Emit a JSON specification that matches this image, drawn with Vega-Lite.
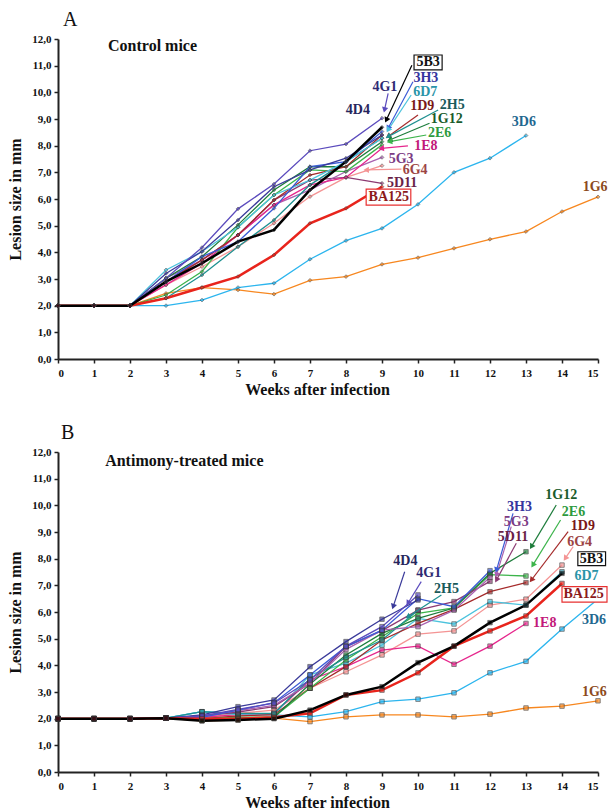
{
"$schema":"https://vega.github.io/schema/vega-lite/v6.json",
"padding":{"left":7,"top":10,"right":5,"bottom":0},
"config":{"view":{"stroke":null},"font":"Liberation Serif",
"axis":{"grid":false,"labelFont":"Liberation Serif","labelFontWeight":"bold","labelFontSize":11,"labelColor":"#111","titleFont":"Liberation Serif","titleFontWeight":"bold","titleFontSize":16,"titleColor":"#111","domainColor":"#222","domainWidth":2,"tickColor":"#222","tickWidth":1.5,"tickSize":4},
"title":{"font":"Liberation Serif","fontWeight":"normal","fontSize":20,"anchor":"start","frame":"group","color":"#111"}},
"datasets":{
"serA":[
{"s":"1G6","w":0,"v":2},{"s":"1G6","w":1,"v":2},{"s":"1G6","w":2,"v":2},{"s":"1G6","w":3,"v":2.46},{"s":"1G6","w":4,"v":2.68},{"s":"1G6","w":5,"v":2.59},{"s":"1G6","w":6,"v":2.43},{"s":"1G6","w":7,"v":2.95},{"s":"1G6","w":8,"v":3.09},{"s":"1G6","w":9,"v":3.55},{"s":"1G6","w":10,"v":3.8},{"s":"1G6","w":11,"v":4.15},{"s":"1G6","w":12,"v":4.49},{"s":"1G6","w":13,"v":4.78},{"s":"1G6","w":14,"v":5.53},{"s":"1G6","w":15,"v":6.08},
{"s":"3D6","w":0,"v":2},{"s":"3D6","w":1,"v":2},{"s":"3D6","w":2,"v":2},{"s":"3D6","w":3,"v":2.0},{"s":"3D6","w":4,"v":2.21},{"s":"3D6","w":5,"v":2.68},{"s":"3D6","w":6,"v":2.84},{"s":"3D6","w":7,"v":3.74},{"s":"3D6","w":8,"v":4.44},{"s":"3D6","w":9,"v":4.9},{"s":"3D6","w":10,"v":5.8},{"s":"3D6","w":11,"v":7.0},{"s":"3D6","w":12,"v":7.53},{"s":"3D6","w":13,"v":8.38},
{"s":"6G4","w":0,"v":2},{"s":"6G4","w":1,"v":2},{"s":"6G4","w":2,"v":2},{"s":"6G4","w":3,"v":2.78},{"s":"6G4","w":4,"v":3.46},{"s":"6G4","w":5,"v":4.21},{"s":"6G4","w":6,"v":5.09},{"s":"6G4","w":7,"v":6.09},{"s":"6G4","w":8,"v":6.81},{"s":"6G4","w":9,"v":7.25},
{"s":"5D11","w":0,"v":2},{"s":"5D11","w":1,"v":2},{"s":"5D11","w":2,"v":2},{"s":"5D11","w":3,"v":2.9},{"s":"5D11","w":4,"v":3.71},{"s":"5D11","w":5,"v":4.65},{"s":"5D11","w":6,"v":5.96},{"s":"5D11","w":7,"v":6.71},{"s":"5D11","w":8,"v":6.81},{"s":"5D11","w":9,"v":6.59},
{"s":"5G3","w":0,"v":2},{"s":"5G3","w":1,"v":2},{"s":"5G3","w":2,"v":2},{"s":"5G3","w":3,"v":3.03},{"s":"5G3","w":4,"v":3.71},{"s":"5G3","w":5,"v":4.65},{"s":"5G3","w":6,"v":5.78},{"s":"5G3","w":7,"v":6.34},{"s":"5G3","w":8,"v":7.03},{"s":"5G3","w":9,"v":7.56},
{"s":"1E8","w":0,"v":2},{"s":"1E8","w":1,"v":2},{"s":"1E8","w":2,"v":2},{"s":"1E8","w":3,"v":2.78},{"s":"1E8","w":4,"v":3.59},{"s":"1E8","w":5,"v":4.65},{"s":"1E8","w":6,"v":5.78},{"s":"1E8","w":7,"v":6.53},{"s":"1E8","w":8,"v":6.81},{"s":"1E8","w":9,"v":7.9},
{"s":"2E6","w":0,"v":2},{"s":"2E6","w":1,"v":2},{"s":"2E6","w":2,"v":2},{"s":"2E6","w":3,"v":2.4},{"s":"2E6","w":4,"v":3.28},{"s":"2E6","w":5,"v":4.94},{"s":"2E6","w":6,"v":6.15},{"s":"2E6","w":7,"v":7.09},{"s":"2E6","w":8,"v":7.03},{"s":"2E6","w":9,"v":8.03},
{"s":"1G12","w":0,"v":2},{"s":"1G12","w":1,"v":2},{"s":"1G12","w":2,"v":2},{"s":"1G12","w":3,"v":3.03},{"s":"1G12","w":4,"v":3.84},{"s":"1G12","w":5,"v":5.03},{"s":"1G12","w":6,"v":6.34},{"s":"1G12","w":7,"v":7.21},{"s":"1G12","w":8,"v":7.21},{"s":"1G12","w":9,"v":8.15},
{"s":"2H5","w":0,"v":2},{"s":"2H5","w":1,"v":2},{"s":"2H5","w":2,"v":2},{"s":"2H5","w":3,"v":2.28},{"s":"2H5","w":4,"v":3.15},{"s":"2H5","w":5,"v":4.21},{"s":"2H5","w":6,"v":5.21},{"s":"2H5","w":7,"v":6.53},{"s":"2H5","w":8,"v":7.4},{"s":"2H5","w":9,"v":8.28},
{"s":"1D9","w":0,"v":2},{"s":"1D9","w":1,"v":2},{"s":"1D9","w":2,"v":2},{"s":"1D9","w":3,"v":2.9},{"s":"1D9","w":4,"v":3.71},{"s":"1D9","w":5,"v":4.65},{"s":"1D9","w":6,"v":5.96},{"s":"1D9","w":7,"v":6.9},{"s":"1D9","w":8,"v":7.21},{"s":"1D9","w":9,"v":8.4},
{"s":"6D7","w":0,"v":2},{"s":"6D7","w":1,"v":2},{"s":"6D7","w":2,"v":2},{"s":"6D7","w":3,"v":3.34},{"s":"6D7","w":4,"v":4.03},{"s":"6D7","w":5,"v":4.94},{"s":"6D7","w":6,"v":6.15},{"s":"6D7","w":7,"v":6.71},{"s":"6D7","w":8,"v":7.4},{"s":"6D7","w":9,"v":8.28},
{"s":"3H3","w":0,"v":2},{"s":"3H3","w":1,"v":2},{"s":"3H3","w":2,"v":2},{"s":"3H3","w":3,"v":2.9},{"s":"3H3","w":4,"v":3.84},{"s":"3H3","w":5,"v":4.4},{"s":"3H3","w":6,"v":5.65},{"s":"3H3","w":7,"v":7.21},{"s":"3H3","w":8,"v":7.4},{"s":"3H3","w":9,"v":8.53},
{"s":"4D4","w":0,"v":2},{"s":"4D4","w":1,"v":2},{"s":"4D4","w":2,"v":2},{"s":"4D4","w":3,"v":3.21},{"s":"4D4","w":4,"v":4.03},{"s":"4D4","w":5,"v":5.21},{"s":"4D4","w":6,"v":6.46},{"s":"4D4","w":7,"v":7.09},{"s":"4D4","w":8,"v":7.53},{"s":"4D4","w":9,"v":8.4},
{"s":"4G1","w":0,"v":2},{"s":"4G1","w":1,"v":2},{"s":"4G1","w":2,"v":2},{"s":"4G1","w":3,"v":3.03},{"s":"4G1","w":4,"v":4.18},{"s":"4G1","w":5,"v":5.63},{"s":"4G1","w":6,"v":6.56},{"s":"4G1","w":7,"v":7.81},{"s":"4G1","w":8,"v":8.06},{"s":"4G1","w":9,"v":9.03},
{"s":"BA125","w":0,"v":2},{"s":"BA125","w":1,"v":2},{"s":"BA125","w":2,"v":2},{"s":"BA125","w":3,"v":2.28},{"s":"BA125","w":4,"v":2.68},{"s":"BA125","w":5,"v":3.09},{"s":"BA125","w":6,"v":3.9},{"s":"BA125","w":7,"v":5.09},{"s":"BA125","w":8,"v":5.65},{"s":"BA125","w":9,"v":6.46},
{"s":"5B3","w":0,"v":2},{"s":"5B3","w":1,"v":2},{"s":"5B3","w":2,"v":2},{"s":"5B3","w":3,"v":2.9},{"s":"5B3","w":4,"v":3.59},{"s":"5B3","w":5,"v":4.4},{"s":"5B3","w":6,"v":4.84},{"s":"5B3","w":7,"v":6.34},{"s":"5B3","w":8,"v":7.4},{"s":"5B3","w":9,"v":8.69}
],
"serB":[
{"s":"1G6","w":0,"v":2},{"s":"1G6","w":1,"v":2},{"s":"1G6","w":2,"v":2},{"s":"1G6","w":3,"v":2.02},{"s":"1G6","w":4,"v":1.92},{"s":"1G6","w":5,"v":1.95},{"s":"1G6","w":6,"v":2.02},{"s":"1G6","w":7,"v":1.89},{"s":"1G6","w":8,"v":2.07},{"s":"1G6","w":9,"v":2.14},{"s":"1G6","w":10,"v":2.14},{"s":"1G6","w":11,"v":2.07},{"s":"1G6","w":12,"v":2.17},{"s":"1G6","w":13,"v":2.4},{"s":"1G6","w":14,"v":2.47},{"s":"1G6","w":15,"v":2.67},
{"s":"3D6","w":0,"v":2},{"s":"3D6","w":1,"v":2},{"s":"3D6","w":2,"v":2},{"s":"3D6","w":3,"v":2.02},{"s":"3D6","w":4,"v":2.26},{"s":"3D6","w":5,"v":2.2},{"s":"3D6","w":6,"v":2.14},{"s":"3D6","w":7,"v":2.07},{"s":"3D6","w":8,"v":2.26},{"s":"3D6","w":9,"v":2.64},{"s":"3D6","w":10,"v":2.73},{"s":"3D6","w":11,"v":2.97},{"s":"3D6","w":12,"v":3.72},{"s":"3D6","w":13,"v":4.15},{"s":"3D6","w":14,"v":5.36},{"s":"3D6","w":15,"v":6.49},
{"s":"6G4","w":0,"v":2},{"s":"6G4","w":1,"v":2},{"s":"6G4","w":2,"v":2},{"s":"6G4","w":3,"v":2.02},{"s":"6G4","w":4,"v":2.05},{"s":"6G4","w":5,"v":2.2},{"s":"6G4","w":6,"v":2.32},{"s":"6G4","w":7,"v":3.14},{"s":"6G4","w":8,"v":3.76},{"s":"6G4","w":9,"v":4.39},{"s":"6G4","w":10,"v":5.17},{"s":"6G4","w":11,"v":5.29},{"s":"6G4","w":12,"v":6.26},{"s":"6G4","w":13,"v":6.48},{"s":"6G4","w":14,"v":7.76},
{"s":"1E8","w":0,"v":2},{"s":"1E8","w":1,"v":2},{"s":"1E8","w":2,"v":2},{"s":"1E8","w":3,"v":2.02},{"s":"1E8","w":4,"v":2.05},{"s":"1E8","w":5,"v":2.15},{"s":"1E8","w":6,"v":2.2},{"s":"1E8","w":7,"v":3.45},{"s":"1E8","w":8,"v":3.95},{"s":"1E8","w":9,"v":4.57},{"s":"1E8","w":10,"v":4.72},{"s":"1E8","w":11,"v":4.04},{"s":"1E8","w":12,"v":4.72},{"s":"1E8","w":13,"v":5.57},
{"s":"6D7","w":0,"v":2},{"s":"6D7","w":1,"v":2},{"s":"6D7","w":2,"v":2},{"s":"6D7","w":3,"v":2.02},{"s":"6D7","w":4,"v":2.26},{"s":"6D7","w":5,"v":2.15},{"s":"6D7","w":6,"v":2.14},{"s":"6D7","w":7,"v":3.64},{"s":"6D7","w":8,"v":4.08},{"s":"6D7","w":9,"v":4.76},{"s":"6D7","w":10,"v":5.76},{"s":"6D7","w":11,"v":5.55},{"s":"6D7","w":12,"v":6.39},{"s":"6D7","w":13,"v":6.26},{"s":"6D7","w":14,"v":7.51},
{"s":"1D9","w":0,"v":2},{"s":"1D9","w":1,"v":2},{"s":"1D9","w":2,"v":2},{"s":"1D9","w":3,"v":2.02},{"s":"1D9","w":4,"v":2.0},{"s":"1D9","w":5,"v":2.1},{"s":"1D9","w":6,"v":2.15},{"s":"1D9","w":7,"v":3.14},{"s":"1D9","w":8,"v":3.95},{"s":"1D9","w":9,"v":4.95},{"s":"1D9","w":10,"v":5.57},{"s":"1D9","w":11,"v":6.1},{"s":"1D9","w":12,"v":6.76},{"s":"1D9","w":13,"v":7.1},
{"s":"2E6","w":0,"v":2},{"s":"2E6","w":1,"v":2},{"s":"2E6","w":2,"v":2},{"s":"2E6","w":3,"v":2.02},{"s":"2E6","w":4,"v":2.0},{"s":"2E6","w":5,"v":2.05},{"s":"2E6","w":6,"v":2.07},{"s":"2E6","w":7,"v":3.14},{"s":"2E6","w":8,"v":4.2},{"s":"2E6","w":9,"v":5.07},{"s":"2E6","w":10,"v":5.95},{"s":"2E6","w":11,"v":6.15},{"s":"2E6","w":12,"v":7.4},{"s":"2E6","w":13,"v":7.35},
{"s":"1G12","w":0,"v":2},{"s":"1G12","w":1,"v":2},{"s":"1G12","w":2,"v":2},{"s":"1G12","w":3,"v":2.02},{"s":"1G12","w":4,"v":1.95},{"s":"1G12","w":5,"v":2.0},{"s":"1G12","w":6,"v":2.05},{"s":"1G12","w":7,"v":3.3},{"s":"1G12","w":8,"v":4.39},{"s":"1G12","w":9,"v":5.2},{"s":"1G12","w":10,"v":5.76},{"s":"1G12","w":11,"v":6.15},{"s":"1G12","w":12,"v":7.45},{"s":"1G12","w":13,"v":8.26},
{"s":"2H5","w":0,"v":2},{"s":"2H5","w":1,"v":2},{"s":"2H5","w":2,"v":2},{"s":"2H5","w":3,"v":2.02},{"s":"2H5","w":4,"v":2.26},{"s":"2H5","w":5,"v":2.2},{"s":"2H5","w":6,"v":2.2},{"s":"2H5","w":7,"v":3.5},{"s":"2H5","w":8,"v":4.3},{"s":"2H5","w":9,"v":4.95},{"s":"2H5","w":10,"v":6.07},
{"s":"5D11","w":0,"v":2},{"s":"5D11","w":1,"v":2},{"s":"5D11","w":2,"v":2},{"s":"5D11","w":3,"v":2.02},{"s":"5D11","w":4,"v":2.1},{"s":"5D11","w":5,"v":2.25},{"s":"5D11","w":6,"v":2.45},{"s":"5D11","w":7,"v":3.33},{"s":"5D11","w":8,"v":4.7},{"s":"5D11","w":9,"v":5.3},{"s":"5D11","w":10,"v":6.07},{"s":"5D11","w":11,"v":6.39},{"s":"5D11","w":12,"v":7.15},
{"s":"5G3","w":0,"v":2},{"s":"5G3","w":1,"v":2},{"s":"5G3","w":2,"v":2},{"s":"5G3","w":3,"v":2.02},{"s":"5G3","w":4,"v":2.1},{"s":"5G3","w":5,"v":2.3},{"s":"5G3","w":6,"v":2.5},{"s":"5G3","w":7,"v":3.33},{"s":"5G3","w":8,"v":4.6},{"s":"5G3","w":9,"v":5.32},{"s":"5G3","w":10,"v":5.45},{"s":"5G3","w":11,"v":6.07},{"s":"5G3","w":12,"v":7.3},
{"s":"3H3","w":0,"v":2},{"s":"3H3","w":1,"v":2},{"s":"3H3","w":2,"v":2},{"s":"3H3","w":3,"v":2.02},{"s":"3H3","w":4,"v":2.05},{"s":"3H3","w":5,"v":2.32},{"s":"3H3","w":6,"v":2.6},{"s":"3H3","w":7,"v":3.64},{"s":"3H3","w":8,"v":4.7},{"s":"3H3","w":9,"v":5.32},{"s":"3H3","w":10,"v":6.5},{"s":"3H3","w":11,"v":6.2},{"s":"3H3","w":12,"v":7.55},
{"s":"4D4","w":0,"v":2},{"s":"4D4","w":1,"v":2},{"s":"4D4","w":2,"v":2},{"s":"4D4","w":3,"v":2.02},{"s":"4D4","w":4,"v":2.14},{"s":"4D4","w":5,"v":2.45},{"s":"4D4","w":6,"v":2.7},{"s":"4D4","w":7,"v":3.95},{"s":"4D4","w":8,"v":4.89},{"s":"4D4","w":9,"v":5.73},{"s":"4D4","w":10,"v":6.45},
{"s":"4G1","w":0,"v":2},{"s":"4G1","w":1,"v":2},{"s":"4G1","w":2,"v":2},{"s":"4G1","w":3,"v":2.02},{"s":"4G1","w":4,"v":2.1},{"s":"4G1","w":5,"v":2.35},{"s":"4G1","w":6,"v":2.58},{"s":"4G1","w":7,"v":3.45},{"s":"4G1","w":8,"v":4.72},{"s":"4G1","w":9,"v":5.45},{"s":"4G1","w":10,"v":6.64},
{"s":"BA125","w":0,"v":2},{"s":"BA125","w":1,"v":2},{"s":"BA125","w":2,"v":2},{"s":"BA125","w":3,"v":2.02},{"s":"BA125","w":4,"v":2.0},{"s":"BA125","w":5,"v":2.0},{"s":"BA125","w":6,"v":2.05},{"s":"BA125","w":7,"v":2.2},{"s":"BA125","w":8,"v":2.89},{"s":"BA125","w":9,"v":3.07},{"s":"BA125","w":10,"v":3.72},{"s":"BA125","w":11,"v":4.72},{"s":"BA125","w":12,"v":5.29},{"s":"BA125","w":13,"v":5.85},{"s":"BA125","w":14,"v":7.07},
{"s":"5B3","w":0,"v":2},{"s":"5B3","w":1,"v":2},{"s":"5B3","w":2,"v":2},{"s":"5B3","w":3,"v":2.02},{"s":"5B3","w":4,"v":1.92},{"s":"5B3","w":5,"v":1.95},{"s":"5B3","w":6,"v":2.0},{"s":"5B3","w":7,"v":2.32},{"s":"5B3","w":8,"v":2.89},{"s":"5B3","w":9,"v":3.2},{"s":"5B3","w":10,"v":4.1},{"s":"5B3","w":11,"v":4.72},{"s":"5B3","w":12,"v":5.6},{"s":"5B3","w":13,"v":6.26},{"s":"5B3","w":14,"v":7.45}
],
"labA":[
{"s":"5B3","x":10.28,"y":11.14},{"s":"3H3","x":10.22,"y":10.52},{"s":"6D7","x":10.2,"y":10.02},{"s":"4G1","x":9.08,"y":10.2},{"s":"4D4","x":8.33,"y":9.34},{"s":"1D9","x":10.12,"y":9.48},{"s":"2H5","x":10.95,"y":9.52},{"s":"1G12","x":10.8,"y":9.0},{"s":"2E6","x":10.6,"y":8.47},{"s":"1E8","x":10.22,"y":8.0},{"s":"5G3","x":9.53,"y":7.5},{"s":"6G4","x":9.92,"y":7.1},{"s":"5D11","x":9.56,"y":6.6},{"s":"BA125","x":9.19,"y":6.07},{"s":"3D6","x":12.94,"y":8.89},{"s":"1G6","x":14.92,"y":6.45}
],
"arrA":[
{"s":"5B3","x":9.83,"y":11.02,"x2":9.12,"y2":8.96},{"s":"3H3","x":9.86,"y":10.4,"x2":9.17,"y2":8.65},{"s":"6D7","x":9.81,"y":9.9,"x2":9.17,"y2":8.59},{"s":"4G1","x":9.17,"y":9.96,"x2":9.07,"y2":9.34},{"s":"1D9","x":10.0,"y":9.15,"x2":9.17,"y2":8.34},{"s":"2H5","x":10.56,"y":9.34,"x2":9.17,"y2":8.34},{"s":"1G12","x":10.32,"y":8.84,"x2":9.21,"y2":8.21},{"s":"2E6","x":10.23,"y":8.4,"x2":9.21,"y2":8.15},{"s":"1E8","x":9.72,"y":7.99,"x2":8.98,"y2":7.9},{"s":"6G4","x":9.54,"y":7.12,"x2":8.56,"y2":7.09}
],
"boxA":[
{"s":"5B3","x":9.89,"x2":10.67,"y":10.84,"y2":11.4},{"s":"BA125","x":8.56,"x2":9.8,"y":5.77,"y2":6.37}
],
"subA":[{"t":"Control mice","x":1.39,"y":11.74}],
"labB":[
{"s":"1G12","x":13.98,"y":10.39},{"s":"2E6","x":14.32,"y":9.76},{"s":"3H3","x":12.82,"y":9.95},{"s":"5G3","x":12.73,"y":9.36},{"s":"5D11","x":12.64,"y":8.82},{"s":"1D9","x":14.58,"y":9.22},{"s":"6G4","x":14.49,"y":8.64},{"s":"5B3","x":14.82,"y":8.0},{"s":"6D7","x":14.68,"y":7.35},{"s":"BA125","x":14.6,"y":6.67},{"s":"3D6","x":14.89,"y":5.7},{"s":"1E8","x":13.52,"y":5.6},{"s":"4D4","x":9.65,"y":7.9},{"s":"4G1","x":10.3,"y":7.47},{"s":"2H5","x":10.79,"y":6.87},{"s":"1G6","x":14.9,"y":3.01}
],
"arrB":[
{"s":"4D4","x":9.63,"y":7.51,"x2":9.31,"y2":6.2},{"s":"4G1","x":10.09,"y":7.14,"x2":9.72,"y2":6.33},{"s":"2H5","x":10.65,"y":6.64,"x2":9.72,"y2":5.82},{"s":"3H3","x":12.64,"y":9.7,"x2":12.18,"y2":7.57},{"s":"5G3","x":12.59,"y":9.2,"x2":12.18,"y2":7.39},{"s":"5D11","x":12.73,"y":8.58,"x2":12.18,"y2":7.2},{"s":"1G12","x":13.84,"y":10.01,"x2":13.15,"y2":8.45},{"s":"2E6","x":13.96,"y":9.45,"x2":13.19,"y2":7.76},{"s":"1D9","x":14.17,"y":9.01,"x2":13.15,"y2":7.2},{"s":"6G4","x":14.31,"y":8.45,"x2":14.09,"y2":8.01}
],
"boxB":[
{"s":"5B3","x":14.44,"x2":15.21,"y":7.74,"y2":8.26},{"s":"BA125","x":14.0,"x2":15.25,"y":6.37,"y2":6.95}
],
"subB":[{"t":"Antimony-treated mice","x":1.31,"y":11.66}]
},
"vconcat":[
{"width":540,"height":320,
"title":{"text":"A","dx":5,"offset":3},
"encoding":{
"x":{"field":"w","type":"quantitative","scale":{"domain":[0,15],"nice":false},"axis":{"values":[0,1,2,3,4,5,6,7,8,9,10,11,12,13,14,15],"format":"d","title":"Weeks after infection","labelPadding":4,"titlePadding":3,"titleX":259}},
"y":{"field":"v","type":"quantitative","scale":{"domain":[0,12],"nice":false},"axis":{"values":[0,1,2,3,4,5,6,7,8,9,10,11,12],"labelExpr":"replace(format(datum.value,'.1f'),'.',',')","title":"Lesion size in mm","labelPadding":3,"titlePadding":8}}},
"layer":[
{"data":{"name":"serA"},"transform":[{"filter":"datum.s!=='BA125'&&datum.s!=='5B3'"}],"mark":{"type":"line","strokeWidth":1.3},"encoding":{"color":{"field":"s","type":"nominal","legend":null,"scale":{"domain":["4D4","4G1","3H3","6D7","1D9","2H5","1G12","2E6","1E8","5G3","6G4","5D11","BA125","5B3","3D6","1G6"],"range":["#3a3a9a","#5b4bbd","#3b5bd6","#4cc3dd","#a52a2a","#1f9090","#1e7d3c","#3cb44b","#e6268c","#a860b0","#f49494","#8c3a72","#e8241c","#000000","#2cb5ee","#f7871f"]}}}},
{"data":{"name":"serA"},"transform":[{"filter":"datum.s==='BA125'||datum.s==='5B3'"}],"mark":{"type":"line","strokeWidth":2.5},"encoding":{"color":{"field":"s","type":"nominal","legend":null}}},
{"data":{"name":"serA"},"mark":{"type":"point","shape":"diamond","filled":true,"size":14,"stroke":"#333","strokeWidth":0.7},"encoding":{"color":{"field":"s","type":"nominal","legend":null}}},
{"data":{"name":"arrA"},"mark":{"type":"rule","strokeWidth":1.2},"encoding":{"x":{"field":"x","type":"quantitative"},"y":{"field":"y","type":"quantitative"},"x2":{"field":"x2"},"y2":{"field":"y2"},"color":{"field":"s","type":"nominal","legend":null}}},
{"data":{"name":"arrA"},"transform":[{"calculate":"atan2((datum.x2-datum.x)*36,(datum.y2-datum.y)*26.67)*180/PI","as":"ang"}],"mark":{"type":"point","shape":"triangle-up","filled":true,"size":40,"opacity":1},"encoding":{"x":{"field":"x2","type":"quantitative"},"y":{"field":"y2","type":"quantitative"},"angle":{"field":"ang","type":"quantitative","scale":null},"color":{"field":"s","type":"nominal","legend":null}}},
{"data":{"name":"boxA"},"mark":{"type":"rect","fill":"white","strokeWidth":1.2},"encoding":{"x":{"field":"x","type":"quantitative"},"x2":{"field":"x2"},"y":{"field":"y","type":"quantitative"},"y2":{"field":"y2"},"stroke":{"field":"s","type":"nominal","legend":null,"scale":{"domain":["5B3","BA125"],"range":["#111111","#e83030"]}}}},
{"data":{"name":"labA"},"mark":{"type":"text","font":"Liberation Serif","fontWeight":"bold","fontSize":14,"align":"center","baseline":"middle"},"encoding":{"x":{"field":"x","type":"quantitative"},"y":{"field":"y","type":"quantitative"},"text":{"field":"s"},"fill":{"field":"s","type":"nominal","legend":null,"scale":{"domain":["4D4","4G1","3H3","6D7","1D9","2H5","1G12","2E6","1E8","5G3","6G4","5D11","BA125","5B3","3D6","1G6"],"range":["#26265c","#2e2a72","#35359e","#2a94a8","#7a1818","#1a5a5a","#1a5c2c","#2e9a3e","#c2187a","#7c3c84","#9c4444","#6a1f48","#8c1a1a","#111111","#1f6890","#8c4a1c"]}}}},
{"data":{"name":"subA"},"mark":{"type":"text","font":"Liberation Serif","fontWeight":"bold","fontSize":16,"align":"left","baseline":"middle","color":"#111"},"encoding":{"x":{"field":"x","type":"quantitative"},"y":{"field":"y","type":"quantitative"},"text":{"field":"t"}}}
]},
{"width":540,"height":320,
"title":{"text":"B","dx":3,"offset":3},
"encoding":{
"x":{"field":"w","type":"quantitative","scale":{"domain":[0,15],"nice":false},"axis":{"values":[0,1,2,3,4,5,6,7,8,9,10,11,12,13,14,15],"format":"d","title":"Weeks after infection","labelPadding":4,"titlePadding":3,"titleX":259}},
"y":{"field":"v","type":"quantitative","scale":{"domain":[0,12],"nice":false},"axis":{"values":[0,1,2,3,4,5,6,7,8,9,10,11,12],"labelExpr":"replace(format(datum.value,'.1f'),'.',',')","title":"Lesion size in mm","labelPadding":3,"titlePadding":8}}},
"layer":[
{"data":{"name":"serB"},"transform":[{"filter":"datum.s!=='BA125'&&datum.s!=='5B3'"}],"mark":{"type":"line","strokeWidth":1.3},"encoding":{"color":{"field":"s","type":"nominal","legend":null,"scale":{"domain":["4D4","4G1","3H3","6D7","1D9","2H5","1G12","2E6","1E8","5G3","6G4","5D11","BA125","5B3","3D6","1G6"],"range":["#3a3a9a","#5b4bbd","#3b5bd6","#4cc3dd","#a52a2a","#1f9090","#1e7d3c","#3cb44b","#e6268c","#a860b0","#f49494","#8c3a72","#e8241c","#000000","#2cb5ee","#f7871f"]}}}},
{"data":{"name":"serB"},"transform":[{"filter":"datum.s==='BA125'||datum.s==='5B3'"}],"mark":{"type":"line","strokeWidth":2.5},"encoding":{"color":{"field":"s","type":"nominal","legend":null}}},
{"data":{"name":"serB"},"mark":{"type":"point","shape":"square","filled":true,"size":20,"stroke":"#333","strokeWidth":0.8},"encoding":{"color":{"field":"s","type":"nominal","legend":null}}},
{"data":{"name":"arrB"},"mark":{"type":"rule","strokeWidth":1.2},"encoding":{"x":{"field":"x","type":"quantitative"},"y":{"field":"y","type":"quantitative"},"x2":{"field":"x2"},"y2":{"field":"y2"},"color":{"field":"s","type":"nominal","legend":null}}},
{"data":{"name":"arrB"},"transform":[{"calculate":"atan2((datum.x2-datum.x)*36,(datum.y2-datum.y)*26.67)*180/PI","as":"ang"}],"mark":{"type":"point","shape":"triangle-up","filled":true,"size":40,"opacity":1},"encoding":{"x":{"field":"x2","type":"quantitative"},"y":{"field":"y2","type":"quantitative"},"angle":{"field":"ang","type":"quantitative","scale":null},"color":{"field":"s","type":"nominal","legend":null}}},
{"data":{"name":"boxB"},"mark":{"type":"rect","fill":"white","strokeWidth":1.2},"encoding":{"x":{"field":"x","type":"quantitative"},"x2":{"field":"x2"},"y":{"field":"y","type":"quantitative"},"y2":{"field":"y2"},"stroke":{"field":"s","type":"nominal","legend":null,"scale":{"domain":["5B3","BA125"],"range":["#111111","#e83030"]}}}},
{"data":{"name":"labB"},"mark":{"type":"text","font":"Liberation Serif","fontWeight":"bold","fontSize":14,"align":"center","baseline":"middle"},"encoding":{"x":{"field":"x","type":"quantitative"},"y":{"field":"y","type":"quantitative"},"text":{"field":"s"},"fill":{"field":"s","type":"nominal","legend":null,"scale":{"domain":["4D4","4G1","3H3","6D7","1D9","2H5","1G12","2E6","1E8","5G3","6G4","5D11","BA125","5B3","3D6","1G6"],"range":["#26265c","#2e2a72","#35359e","#2a94a8","#7a1818","#1a5a5a","#1a5c2c","#2e9a3e","#c2187a","#7c3c84","#9c4444","#6a1f48","#8c1a1a","#111111","#1f6890","#8c4a1c"]}}}},
{"data":{"name":"subB"},"mark":{"type":"text","font":"Liberation Serif","fontWeight":"bold","fontSize":16,"align":"left","baseline":"middle","color":"#111"},"encoding":{"x":{"field":"x","type":"quantitative"},"y":{"field":"y","type":"quantitative"},"text":{"field":"t"}}}
]}
],
"spacing":93,
"bounds":"flush"
}
